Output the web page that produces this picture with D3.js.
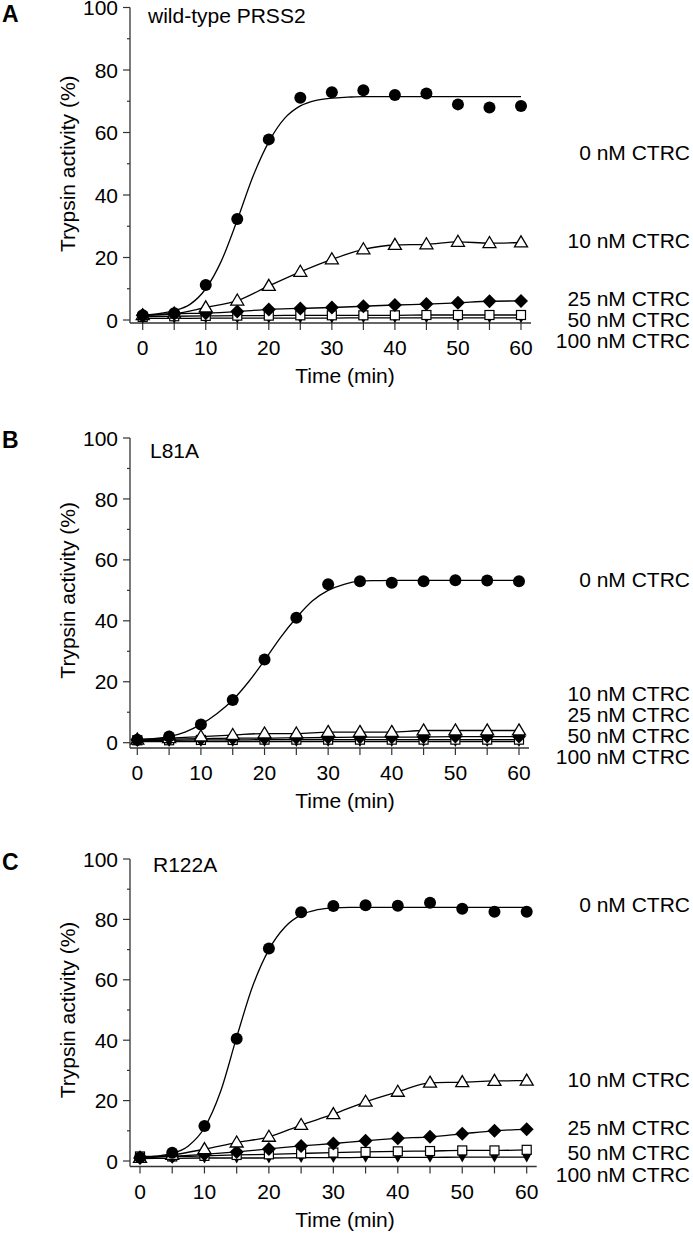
<!DOCTYPE html>
<html><head><meta charset="utf-8">
<script src="https://cdn.jsdelivr.net/npm/d3@7"></script>
<style>body{margin:0;background:#fff}svg{display:block}text{font-family:"Liberation Sans",Arial,sans-serif;fill:#000}</style>
</head><body><svg id="c" width="693" height="1233"></svg>
<script>
const times = [0,5,10,15,20,25,30,35,40,45,50,55,60];
const fitTimes = [0,2.5,5,7.5,10,12.5,15,17.5,20,22.5,25,27.5,30,32.5,35,37.5,40,42.5,45,47.5,50,52.5,55,57.5,60];
const xTicks = [0,5,10,15,20,25,30,35,40,45,50,55,60];
const xTickLabels = [0,10,20,30,40,50,60];
const yTickLabels = [0,20,40,60,80,100];
const seriesNames = ["0 nM CTRC","10 nM CTRC","25 nM CTRC","50 nM CTRC","100 nM CTRC"];
const panelLetters = ["A","B","C"];
const panelTitles = ["wild-type PRSS2","L81A","R122A"];

// Panel A
const A_0   = [1.5,2.2,11.2,32.3,57.8,71.1,72.9,73.5,72,72.5,69,68,68.5];
const A_0fit= [1.5,2,3,5,10,19,32,46,57,64.5,68.5,70.3,71,71.3,71.5,71.5,71.5,71.5,71.5,71.5,71.5,71.5,71.5,71.5,71.5];
const A_10  = [1.5,2,4,6.2,10.9,15.4,19.4,22.6,24,24.2,25,24.6,24.8];
const A_25  = [1.5,2,2.2,2.7,3.4,3.7,4,4.4,4.8,5.1,5.5,6,6.1];
const A_50  = [1,1.2,1.3,1.4,1.4,1.5,1.5,1.5,1.5,1.6,1.6,1.6,1.6];
const A_100 = [0.5,0.5,0.6,0.6,0.6,0.6,0.6,0.7,0.7,0.7,0.7,0.7,0.7];
// Panel B
const B_0   = [1,2,6,14,27.3,41,52,53,52.5,53,53.3,53.2,53];
const B_0fit= [1,1.3,2,3.5,6,9.5,14,20,27,34.5,41,46.5,50,52,53,53.2,53.3,53.3,53.3,53.3,53.3,53.3,53.3,53.3,53.3];
const B_10  = [1,1.5,2,2.5,3,3,3.5,3.5,3.5,4,4,4,4];
const B_25  = [1,1.2,1.3,1.5,1.5,1.6,1.7,1.8,1.8,1.9,2,2,2];
const B_50  = [0.8,0.8,0.9,0.9,1,1,1,1,1,1,1,1,1];
const B_100 = [0.4,0.4,0.4,0.4,0.4,0.4,0.4,0.4,0.4,0.4,0.4,0.4,0.4];
// Panel C
const C_0   = [1.2,2.7,11.6,40.5,70.4,82.4,84.4,84.7,84.5,85.5,83.5,82.5,82.5];
const C_0fit= [1.2,1.6,2.5,5,11,23,41,58,70,77.5,81.5,83.2,83.8,84,84,84,84,84,84,84,84,84,84,84,84];
const C_10  = [1,2,3.9,6.1,8,11.9,15.5,19.6,22.9,25.9,26.1,26.5,26.6];
const C_25  = [1,1.5,2.2,3,4,5,5.8,6.7,7.5,8,9,10,10.5];
const C_50  = [1.5,1.5,1.7,2,2.2,2.5,2.8,3,3.2,3.3,3.5,3.5,3.7];
const C_100 = [0.8,0.9,1,1,1,1.1,1.1,1.2,1.2,1.2,1.3,1.3,1.3];

const panelData = [
  {fit:A_0fit, series:[A_0,A_10,A_25,A_50,A_100]},
  {fit:B_0fit, series:[B_0,B_10,B_25,B_50,B_100]},
  {fit:C_0fit, series:[C_0,C_10,C_25,C_50,C_100]}
];
// layout
const layout = [
  {yTop:7.5, y0:320, axisY:323, x0:142.7, x60:521, letterY:22, titleX:148, titleY:23, labelY:[153,241,299,320,341]},
  {yTop:438, y0:742.7, axisY:748, x0:137.3, x60:519, letterY:448, titleX:150, titleY:458, labelY:[580,694,715,736,757]},
  {yTop:859, y0:1161, axisY:1166.5, x0:140, x60:526.7, letterY:870, titleX:153, titleY:872, labelY:[905,1080,1128,1153,1175]}
];
const FS = 21;
const svg = d3.select("#c");

function shape(type, g, x, y){
  if(type===0){ g.append("circle").attr("cx",x).attr("cy",y).attr("r",6).attr("fill","#000"); }
  else if(type===1){ const s=13,h=11; g.append("path").attr("d",`M${x},${y-h*0.6}L${x+s/2},${y+h*0.4}L${x-s/2},${y+h*0.4}Z`).attr("fill","#fff").attr("stroke","#000").attr("stroke-width",1.3); }
  else if(type===2){ const r=7; g.append("path").attr("d",`M${x},${y-r}L${x+r},${y}L${x},${y+r}L${x-r},${y}Z`).attr("fill","#000"); }
  else if(type===3){ const r=4.5; g.append("rect").attr("x",x-r).attr("y",y-r).attr("width",2*r).attr("height",2*r).attr("fill","#fff").attr("stroke","#000").attr("stroke-width",1.2); }
  else { const s=10,h=9; g.append("path").attr("d",`M${x},${y+h*0.6}L${x+s/2},${y-h*0.4}L${x-s/2},${y-h*0.4}Z`).attr("fill","#000"); }
}

panelData.forEach((pd,i)=>{
  const L = layout[i];
  const x = d3.scaleLinear().domain([0,60]).range([L.x0,L.x60]);
  const y = d3.scaleLinear().domain([0,100]).range([L.y0,L.yTop]);
  const g = svg.append("g");
  const axisX = 130;
  const yAx = g.append("g").attr("transform",`translate(${axisX},0)`);
  yAx.append("line").attr("x1",0).attr("x2",0).attr("y1",L.yTop).attr("y2",L.axisY).attr("stroke","#333").attr("stroke-width",1.3);
  d3.range(0,101,10).forEach(v=>{
    const major = v%20===0;
    yAx.append("line").attr("x1",major?-7:-3).attr("x2",0).attr("y1",y(v)).attr("y2",y(v)).attr("stroke","#333").attr("stroke-width",1.2);
  });
  yAx.selectAll("text.yt").data(yTickLabels).join("text").attr("class","yt")
    .attr("x",-12).attr("y",d=>y(d)).attr("dy","0.36em").attr("text-anchor","end").attr("font-size",FS).text(d=>d);
  const xAx = g.append("g").attr("transform",`translate(0,${L.axisY})`);
  xAx.append("line").attr("x1",axisX).attr("x2",L.x60+10).attr("y1",0).attr("y2",0).attr("stroke","#333").attr("stroke-width",1.3);
  xAx.selectAll("line.xt").data(xTicks).join("line").attr("class","xt")
    .attr("x1",d=>x(d)).attr("x2",d=>x(d)).attr("y1",0).attr("y2",7).attr("stroke","#333").attr("stroke-width",1.2);
  xAx.selectAll("text.xl").data(xTickLabels).join("text").attr("class","xl")
    .attr("x",d=>x(d)).attr("y",32).attr("text-anchor","middle").attr("font-size",FS).text(d=>d);
  g.append("text").attr("x",345).attr("y",L.axisY+60).attr("text-anchor","middle").attr("font-size",FS).text("Time (min)");
  g.append("text").attr("transform",`translate(75,${(L.yTop+L.y0)/2}) rotate(-90)`).attr("text-anchor","middle").attr("font-size",FS).text("Trypsin activity (%)");
  g.append("text").attr("x",2).attr("y",L.letterY).attr("font-size",23).attr("font-weight","bold").text(panelLetters[i]);
  g.append("text").attr("x",L.titleX).attr("y",L.titleY).attr("font-size",FS).text(panelTitles[i]);
  const line = d3.line().x(d=>x(d[0])).y(d=>y(d[1])).curve(d3.curveMonotoneX);
  g.append("path").attr("d",line(fitTimes.map((t,k)=>[t,pd.fit[k]]))).attr("fill","none").attr("stroke","#000").attr("stroke-width",1.3);
  for(let s=1;s<5;s++){
    g.append("path").attr("d",line(times.map((t,k)=>[t,pd.series[s][k]]))).attr("fill","none").attr("stroke","#000").attr("stroke-width",1.3);
  }
  for(let s=4;s>=0;s--){
    const mg = g.append("g");
    times.forEach((t,k)=>shape(s,mg,x(t),y(pd.series[s][k])));
  }
  seriesNames.forEach((n,s)=>{
    g.append("text").attr("x",690).attr("y",L.labelY[s]).attr("dy","0.35em").attr("text-anchor","end").attr("font-size",FS).text(n);
  });
});
</script></body></html>
